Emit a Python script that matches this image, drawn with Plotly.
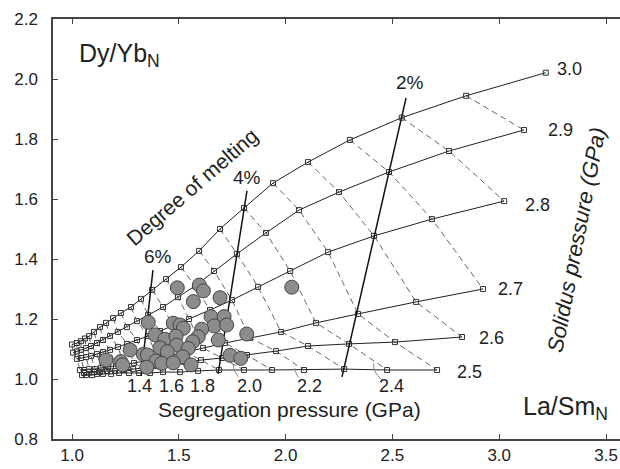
import plotly.graph_objects as go

# Solidus pressure curves (GPa): La/Sm_N and Dy/Yb_N, ordered from segregation = solidus downward in 0.1 GPa steps
solidus = [3.0, 2.9, 2.8, 2.7, 2.6, 2.5]
curve_x = {
    3.0: [3.218, 2.845, 2.544, 2.301, 2.105, 1.941, 1.805, 1.693, 1.595, 1.510, 1.440, 1.375,
          1.323, 1.276, 1.229, 1.192, 1.159, 1.131, 1.103, 1.080, 1.061, 1.042, 1.023, 1.000],
    2.9: [3.116, 2.765, 2.484, 2.250, 2.063, 1.908, 1.772, 1.665, 1.576, 1.496, 1.426, 1.356,
          1.304, 1.257, 1.215, 1.178, 1.145, 1.117, 1.089, 1.066, 1.042, 1.023, 1.005],
    2.8: [3.023, 2.685, 2.414, 2.199, 2.021, 1.871, 1.749, 1.646, 1.548, 1.473, 1.412, 1.356,
          1.304, 1.258, 1.215, 1.178, 1.145, 1.117, 1.089, 1.066, 1.042, 1.023],
    2.7: [2.924, 2.611, 2.339, 2.142, 1.979, 1.833, 1.716, 1.613, 1.534, 1.464, 1.403, 1.342,
          1.290, 1.243, 1.206, 1.169, 1.136, 1.108, 1.080, 1.056, 1.037],
    2.6: [2.826, 2.512, 2.297, 2.105, 1.955, 1.819, 1.702, 1.604, 1.524, 1.459, 1.398, 1.337,
          1.286, 1.239, 1.201, 1.164, 1.131, 1.103, 1.080, 1.056],
    2.5: [2.709, 2.475, 2.274, 2.086, 1.936, 1.805, 1.688, 1.590, 1.506, 1.426, 1.365, 1.314,
          1.267, 1.220, 1.183, 1.145, 1.117, 1.094, 1.066, 1.047],
}
curve_y = {
    3.0: [2.021, 1.944, 1.871, 1.797, 1.723, 1.653, 1.570, 1.500, 1.427, 1.373, 1.333, 1.297,
          1.267, 1.240, 1.220, 1.203, 1.187, 1.173, 1.157, 1.143, 1.135, 1.126, 1.120, 1.115],
    2.9: [1.830, 1.760, 1.690, 1.623, 1.563, 1.487, 1.417, 1.360, 1.310, 1.273, 1.240, 1.213,
          1.193, 1.173, 1.157, 1.143, 1.130, 1.120, 1.110, 1.103, 1.097, 1.092, 1.088],
    2.8: [1.593, 1.533, 1.477, 1.423, 1.360, 1.307, 1.263, 1.230, 1.200, 1.177, 1.160, 1.143,
          1.130, 1.117, 1.107, 1.097, 1.090, 1.083, 1.077, 1.073, 1.070, 1.067],
    2.7: [1.300, 1.257, 1.217, 1.187, 1.157, 1.137, 1.120, 1.103, 1.090, 1.080, 1.070, 1.060,
          1.053, 1.047, 1.043, 1.040, 1.037, 1.033, 1.033, 1.030, 1.030],
    2.6: [1.140, 1.123, 1.117, 1.110, 1.093, 1.080, 1.070, 1.063, 1.057, 1.050, 1.043, 1.037,
          1.033, 1.030, 1.027, 1.027, 1.023, 1.023, 1.023, 1.020],
    2.5: [1.030, 1.030, 1.033, 1.030, 1.030, 1.030, 1.030, 1.027, 1.023, 1.023, 1.020, 1.020,
          1.020, 1.020, 1.017, 1.017, 1.017, 1.013, 1.013, 1.013],
}

# Degree-of-melting lines (end points)
melt_labels = ["2%", "4%", "6%"]
melt_x = [[2.564, 2.264], [1.819, 1.684], [1.379, 1.323]]
melt_y = [[1.937, 1.007], [1.627, 1.017], [1.363, 1.010]]
melt_label_x = [2.581, 1.819, 1.403]
melt_label_y = [1.987, 1.673, 1.407]

# Samples
sample_x = [1.493, 1.596, 1.615, 1.568, 1.693, 2.029, 1.357, 1.651, 1.712, 1.474, 1.506, 1.521,
            1.665, 1.724, 1.607, 1.389, 1.435, 1.487, 1.818, 1.591, 1.565, 1.685, 1.490, 1.272,
            1.412, 1.446, 1.544, 1.334, 1.353, 1.518, 1.740, 1.790, 1.159, 1.228, 1.237, 1.393,
            1.420, 1.474, 1.557, 1.350]
sample_y = [1.304, 1.313, 1.294, 1.258, 1.271, 1.306, 1.189, 1.208, 1.208, 1.186, 1.180, 1.169,
            1.177, 1.180, 1.166, 1.147, 1.132, 1.143, 1.150, 1.141, 1.124, 1.130, 1.113, 1.097,
            1.104, 1.091, 1.102, 1.082, 1.080, 1.074, 1.079, 1.069, 1.063, 1.058, 1.047, 1.060,
            1.052, 1.054, 1.047, 1.039]

# Labels
solidus_label_x = [3.328, 3.285, 3.177, 3.051, 2.962, 2.863]
solidus_label_y = [2.033, 1.830, 1.580, 1.300, 1.137, 1.023]
seg_labels = ["1.4", "1.6", "1.8", "2.0", "2.2", "2.4"]
seg_label_x = [1.318, 1.468, 1.609, 1.833, 2.114, 2.498]
seg_label_y = [0.976, 0.976, 0.976, 0.976, 0.976, 0.978]
leader_x = [[1.755, 1.760, 1.779], [2.044, 2.049, 2.060], [2.411, 2.419, 2.450]]
leader_y = [[1.050, 1.030, 1.007], [1.036, 1.020, 1.006], [1.052, 1.024, 0.997]]

xticks = [1.0, 1.5, 2.0, 2.5, 3.0, 3.5]
yticks = [0.8, 1.0, 1.2, 1.4, 1.6, 1.8, 2.0, 2.2]

FONT = "Liberation Sans, Arial, sans-serif"
TXT = "#222222"

fig = go.Figure()

# dashed iso-segregation-pressure lines
dx, dy = [], []
s10 = [int(round(s * 10)) for s in solidus]
for p10 in range(5, 31):
    px, py = [], []
    for s, st in zip(solidus, s10):
        k = st - p10
        if 0 <= k < len(curve_x[s]):
            px.append(curve_x[s][k]); py.append(curve_y[s][k])
    if len(px) >= 2:
        dx += px + [None]; dy += py + [None]
fig.add_trace(go.Scatter(x=dx, y=dy, mode="lines",
                         line=dict(color="#666666", width=1, dash="6px,4px"),
                         hoverinfo="skip", showlegend=False))

# solidus curves
for s in solidus:
    fig.add_trace(go.Scatter(x=curve_x[s], y=curve_y[s], mode="lines+markers",
                             line=dict(color="#222222", width=1),
                             marker=dict(symbol="square-open", size=5,
                                         color="#333333", line=dict(width=1)),
                             showlegend=False))

# melting lines
for mx, my in zip(melt_x, melt_y):
    fig.add_trace(go.Scatter(x=mx, y=my, mode="lines",
                             line=dict(color="#111111", width=1.5), showlegend=False))

# leaders
for lx, ly in zip(leader_x, leader_y):
    fig.add_trace(go.Scatter(x=lx, y=ly, mode="lines", line=dict(color="#888888", width=1, shape="spline"),
                             showlegend=False))

# samples
fig.add_trace(go.Scatter(x=sample_x, y=sample_y, mode="markers",
                         marker=dict(size=14, color="#8c8c8c", line=dict(color="#444444", width=1)),
                         showlegend=False))

ann = []
for t, x, y in zip(melt_labels, melt_label_x, melt_label_y):
    ann.append(dict(x=x, y=y, text=t, showarrow=False, font=dict(size=19, color=TXT, family=FONT)))
for s, x, y in zip(solidus, solidus_label_x, solidus_label_y):
    ann.append(dict(x=x, y=y, text=f"{s:.1f}", showarrow=False, font=dict(size=18, color=TXT, family=FONT)))
for t, x, y in zip(seg_labels, seg_label_x, seg_label_y):
    ann.append(dict(x=x, y=y, text=t, showarrow=False, font=dict(size=18, color=TXT, family=FONT)))
ann.append(dict(x=1.564, y=1.642, text="Degree of melting", textangle=-41, showarrow=False,
                font=dict(size=21, color=TXT, family=FONT)))
ann.append(dict(x=3.36, y=1.463, text="<i>Solidus pressure (GPa)</i>", textangle=-79, showarrow=False,
                font=dict(size=22, color=TXT, family=FONT)))
ann.append(dict(x=2.02, y=0.897, text="Segregation pressure (GPa)", showarrow=False,
                font=dict(size=21, color=TXT, family=FONT)))
ann.append(dict(x=1.22, y=2.08, text="Dy/Yb<sub>N</sub>", showarrow=False,
                font=dict(size=25, color=TXT, family=FONT)))
ann.append(dict(x=3.31, y=0.905, text="La/Sm<sub>N</sub>", showarrow=False,
                font=dict(size=25, color=TXT, family=FONT)))

fig.update_layout(
    width=620, height=469,
    margin=dict(l=53, r=0, t=19, b=30),
    paper_bgcolor="white", plot_bgcolor="white",
    annotations=ann,
    xaxis=dict(range=[0.911, 3.5655], tickvals=xticks, ticktext=[f"{v:.1f}" for v in xticks],
               ticks="inside", ticklen=5, tickcolor="#444", showline=True, linecolor="#444",
               linewidth=1.5, mirror="ticks", showgrid=False, zeroline=False,
               tickfont=dict(size=17, color=TXT, family=FONT)),
    yaxis=dict(range=[0.8, 2.2], tickvals=yticks, ticktext=[f"{v:.1f}" for v in yticks],
               ticks="inside", ticklen=5, tickcolor="#444", showline=True, linecolor="#444",
               linewidth=1.5, showgrid=False, zeroline=False, ticklabelstandoff=10,
               tickfont=dict(size=17, color=TXT, family=FONT)),
)

fig.write_html("out.html")
